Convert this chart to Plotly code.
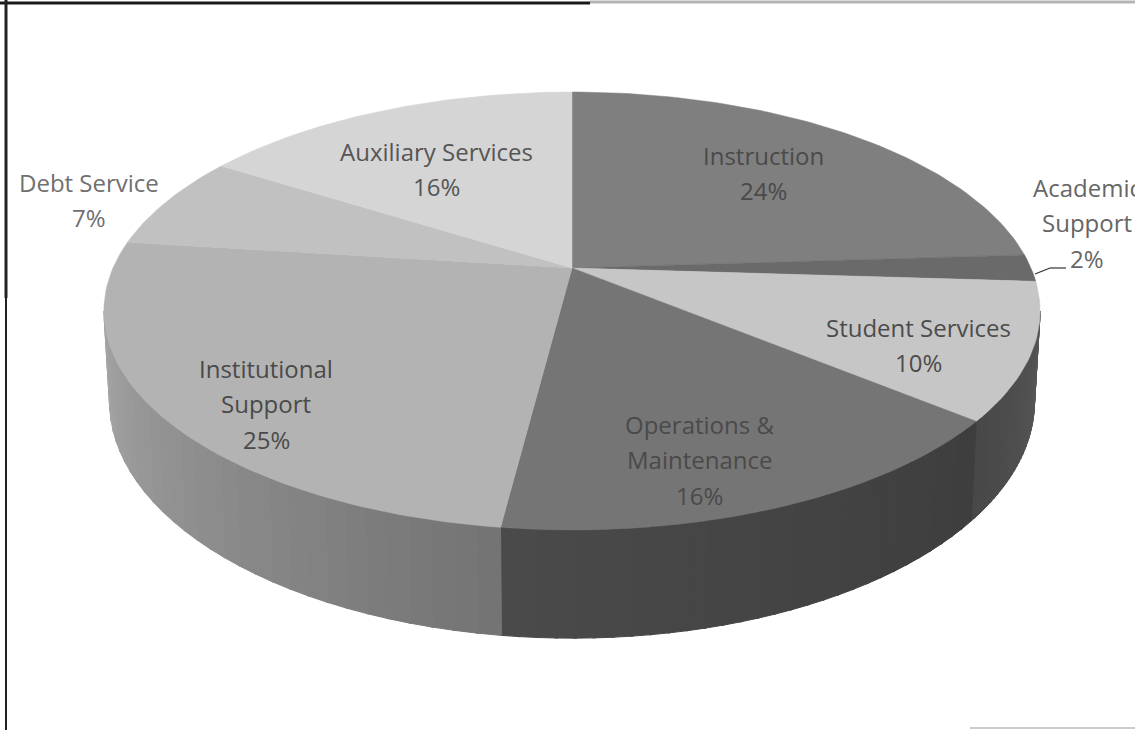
import math
import plotly.graph_objects as go

categories = ["Instruction", "Academic Support", "Student Services", "Operations & Maintenance",
              "Institutional Support", "Debt Service", "Auxiliary Services"]
shares = [24, 2, 10, 16, 25, 7, 16]
top_colors = ["#7f7f7f", "#6a6a6a", "#c6c6c6", "#757575", "#b3b3b3", "#c1c1c1", "#d5d5d5"]
# wall shade (grey level) at the start and end of each visible slice wall
wall_shades = [None, None, (88, 72), (62, 74), (116, 165), None, None]

label_lines = [["Instruction", "24%"], ["Academic", "Support", "2%"], ["Student Services", "10%"],
               ["Operations &", "Maintenance", "16%"], ["Institutional", "Support", "25%"],
               ["Debt Service", "7%"], ["Auxiliary Services", "16%"]]
label_anchor = [(763, 155), (1087, 187), (918, 327), (699, 424), (266, 368), (89, 182), (436, 151)]
label_color = ["#4a4a4a", "#666666", "#4c4c4c", "#4a4a4a", "#4a4a4a", "#707070", "#555555"]
LINE_GAP = 35.5


def project(deg, depth=0.0):
    t = math.radians(deg)
    u, v = math.sin(t), math.cos(t)
    w = 1 + 0.1963 * v
    x = 572 + 459 * u / w * (1 - 0.012 * depth)
    y = (268 - 157.9 * v) / w + depth * 87 / w
    return x, y


fig = go.Figure()

# side wall, drawn in thin strips to carry the shading
total = sum(shares)
edges = [0]
for s in shares:
    edges.append(edges[-1] + s / total * 360)
WALL_FROM, WALL_TO = 101.3, 258.7
for i, cat in enumerate(categories):
    if wall_shades[i] is None:
        continue
    a0, a1 = max(edges[i], WALL_FROM), min(edges[i + 1], WALL_TO)
    n = 30
    for k in range(n):
        d0 = a0 + (a1 - a0) * k / n
        d1 = a0 + (a1 - a0) * (k + 1) / n + 0.3
        d1 = min(d1, a1)
        deg = [d0 + (d1 - d0) * j / 2 for j in range(3)]
        p = [project(d) for d in deg] + [project(d, 1) for d in reversed(deg)]
        g = round(wall_shades[i][0] + (wall_shades[i][1] - wall_shades[i][0]) * k / (n - 1))
        col = f"rgb({g},{g},{g})"
        fig.add_trace(go.Scatter(x=[q[0] for q in p] + [p[0][0]], y=[q[1] for q in p] + [p[0][1]],
                                 mode="lines", fill="toself", fillcolor=col,
                                 line=dict(color=col, width=1), name=cat,
                                 showlegend=False, hoverinfo="skip"))

# top surface
cx, cy = project(0)[0], 268
for i, cat in enumerate(categories):
    steps = max(6, int(shares[i] * 3))
    p = [project(edges[i] + (edges[i + 1] - edges[i]) * k / steps) for k in range(steps + 1)]
    xs = [cx] + [q[0] for q in p] + [cx]
    ys = [cy] + [q[1] for q in p] + [cy]
    fig.add_trace(go.Scatter(x=xs, y=ys, mode="lines", fill="toself", fillcolor=top_colors[i],
                             line=dict(color=top_colors[i], width=0.5), name=cat,
                             showlegend=False, hovertext=f"{cat}: {shares[i]}%", hoverinfo="text"))

annotations = []
for lines, (ax, ay), col in zip(label_lines, label_anchor, label_color):
    for j, t in enumerate(lines):
        annotations.append(dict(x=ax, y=ay + j * LINE_GAP, text=t, showarrow=False, xanchor="center",
                                yanchor="middle", font=dict(family="Open Sans", size=24, color=col)))

shapes = [
    dict(type="line", x0=0, x1=590, y0=3, y1=3, line=dict(color="#1a1a1a", width=3)),
    dict(type="line", x0=590, x1=1135, y0=2, y1=2, line=dict(color="#b5b5b5", width=3)),
    dict(type="line", x0=6, x1=6, y0=0, y1=298, line=dict(color="#222222", width=3)),
    dict(type="line", x0=6, x1=6, y0=298, y1=730, line=dict(color="#222222", width=2)),
    dict(type="line", x0=970, x1=1135, y0=728, y1=728, line=dict(color="#cccccc", width=2)),
    dict(type="line", x0=1035, x1=1050, y0=274, y1=268, line=dict(color="#333333", width=1.2)),
    dict(type="line", x0=1050, x1=1066, y0=268, y1=268, line=dict(color="#333333", width=1.2)),
]

fig.update_layout(
    width=1135, height=730, margin=dict(l=0, r=0, t=0, b=0),
    paper_bgcolor="white", plot_bgcolor="white", showlegend=False,
    xaxis=dict(range=[0, 1135], visible=False, fixedrange=True),
    yaxis=dict(range=[730, 0], visible=False, fixedrange=True),
    annotations=annotations, shapes=shapes,
)
fig.write_html("out.html", config=dict(displayModeBar=False),
               post_script="document.body.style.margin='0';document.body.style.overflow='hidden';")
